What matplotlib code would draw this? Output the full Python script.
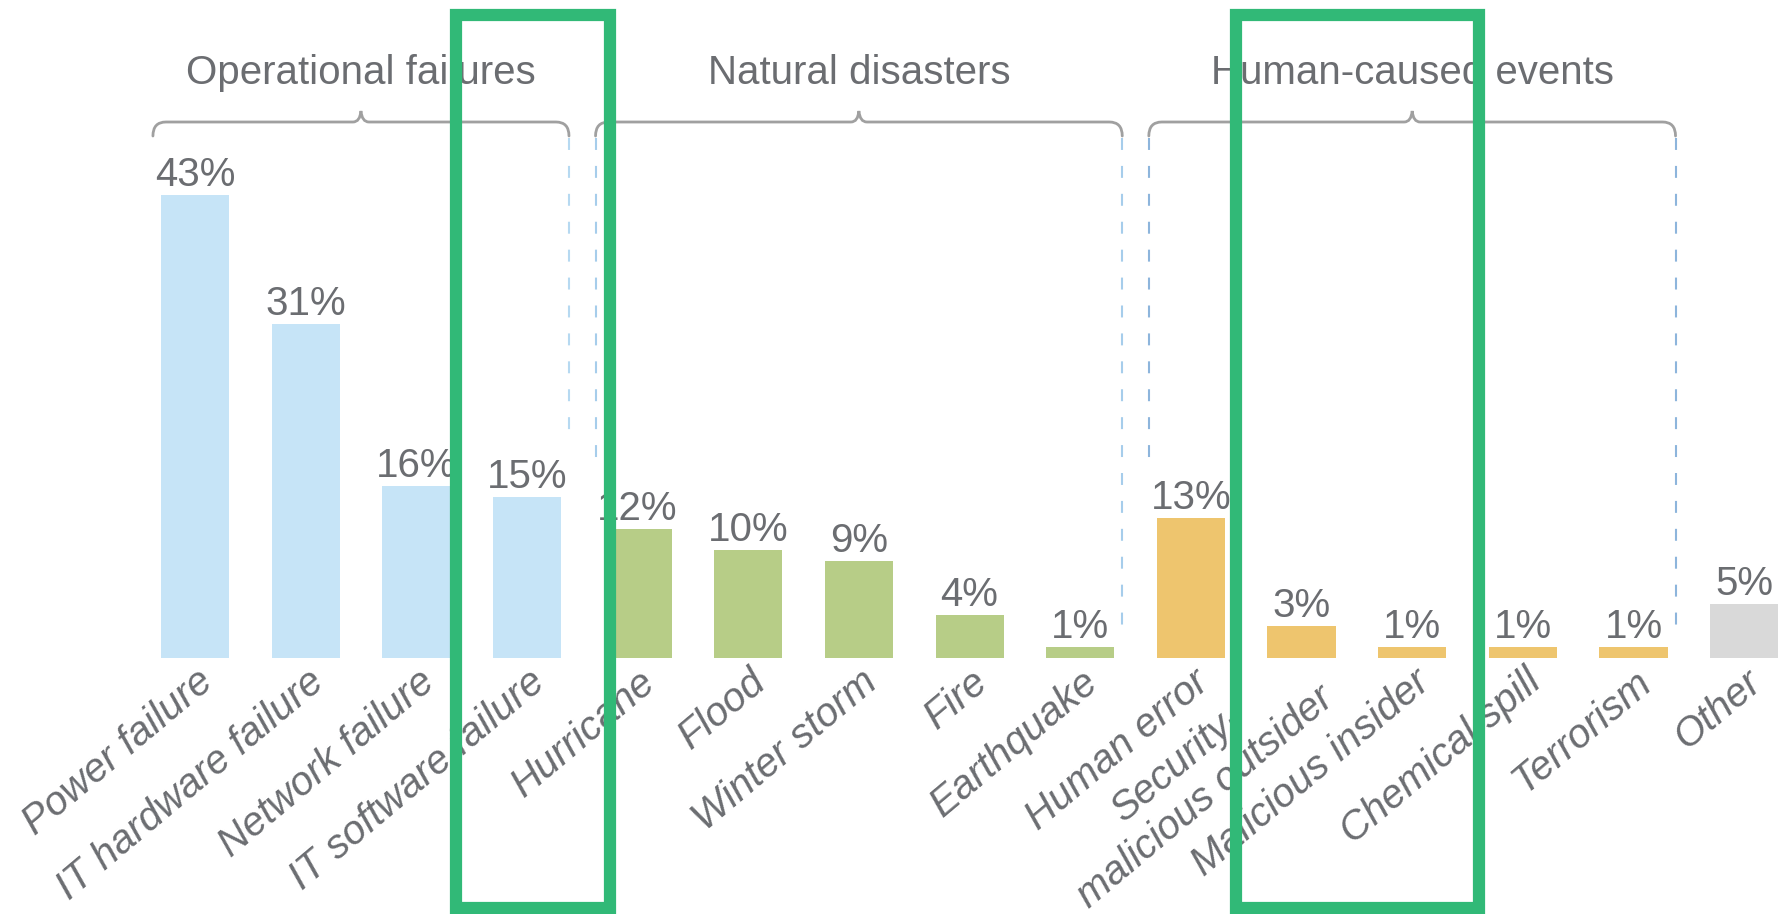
import matplotlib
matplotlib.use("Agg")
import matplotlib.pyplot as plt
from matplotlib.path import Path
from matplotlib.patches import PathPatch, Rectangle
from matplotlib.transforms import IdentityTransform
from matplotlib.lines import Line2D

# ---- data -------------------------------------------------------------
categories = [
    "Power failure", "IT hardware failure", "Network failure", "IT software failure",
    "Hurricane", "Flood", "Winter storm", "Fire", "Earthquake",
    "Human error", "Security-\nmalicious outsider", "Malicious insider",
    "Chemical spill", "Terrorism",
    "Other",
]
values = [43, 31, 16, 15, 12, 10, 9, 4, 1, 13, 3, 1, 1, 1, 5]

group_names = ["Operational failures", "Natural disasters", "Human-caused events", None]
group_sizes = [4, 5, 5, 1]
group_colors = ["#C6E4F7", "#B7CD87", "#EEC56E", "#D9D9D9"]
dash_colors = ["#B6D9F1", "#A6CDEB", "#8DB5DC"]

# ---- style ------------------------------------------------------------
W, H, DPI = 1778, 914, 100
TEXT = "#6B6D71"
BRACE = "#A0A0A0"
HIGHLIGHT = "#31B977"
plt.rcParams["font.family"] = ["Liberation Sans", "DejaVu Sans"]
plt.rcParams["lines.scale_dashes"] = False

fig = plt.figure(figsize=(W / DPI, H / DPI), dpi=DPI)
fig.patch.set_facecolor("white")
base_px = 658          # bar baseline, pixels from the top
ax = fig.add_axes([0, (H - base_px) / H, 1, 538 / H])
ax.set_xlim(-1.762, 14.306)
ax.set_ylim(0, 50)
ax.axis("off")

# colour per bar from its group
bar_colors = []
groups = []
start = 0
for name, size, col in zip(group_names, group_sizes, group_colors):
    bar_colors += [col] * size
    groups.append((name, start, start + size - 1))
    start += size

xs = list(range(len(values)))
ax.bar(xs, values, width=0.615, color=bar_colors, zorder=2)

for i, v in enumerate(values):
    ax.annotate(f"{v}%", (i, v), xytext=(0, 9), textcoords="offset pixels",
                ha="center", va="baseline", fontsize=29, color=TEXT)
    ax.annotate(categories[i], (i, 0), xytext=(13, -19), textcoords="offset pixels",
                ha="right", va="center", rotation=40, rotation_mode="anchor",
                multialignment="center", fontstyle="italic", fontsize=29,
                color=TEXT, annotation_clip=False)

# ---- group braces with dashed leaders ---------------------------------
ident = IdentityTransform()


def xpix(xd):
    return ax.transData.transform((xd, 0))[0]


def ypix(y_top):
    return H - y_top


def ypix_val(v):
    return ax.transData.transform((0, v))[1]


y_h, y_e, r = 122, 136, 13      # brace line, end tips, corner radius
cusp_w, cusp_h = 8, 11
pad = 0.38

for gi, (name, a, b) in enumerate(groups):
    if name is None:
        continue
    xl, xr = xpix(a - pad), xpix(b + pad)
    cx = (xl + xr) / 2
    Y = ypix
    verts = [
        (xl, Y(y_e)), (xl, Y(y_h)), (xl + r, Y(y_h)),
        (cx - cusp_w, Y(y_h)),
        (cx - 1, Y(y_h)), (cx, Y(y_h - cusp_h)),
        (cx + 1, Y(y_h)), (cx + cusp_w, Y(y_h)),
        (xr - r, Y(y_h)),
        (xr, Y(y_h)), (xr, Y(y_e)),
    ]
    codes = [Path.MOVETO, Path.CURVE3, Path.CURVE3,
             Path.LINETO,
             Path.CURVE3, Path.CURVE3,
             Path.CURVE3, Path.CURVE3,
             Path.LINETO,
             Path.CURVE3, Path.CURVE3]
    fig.add_artist(PathPatch(Path(verts, codes), transform=ident, fill=False,
                             edgecolor=BRACE, lw=2.0, capstyle="round"))
    fig.text(cx / W, 1 - 84 / H, name, ha="center", va="baseline",
             fontsize=29, color=TEXT)

    # dashed leaders down towards the neighbouring bars
    for xe, idx in ((xl, a), (xr, b)):
        v = values[idx]
        stop = ypix_val(v + (5.3 if v >= 10 else 2))
        top = ypix(y_e + 2)
        if stop < top:
            fig.add_artist(Line2D([xe, xe], [top, stop], transform=ident,
                                  color=dash_colors[gi], lw=1.5,
                                  linestyle=(0, (8.6, 11.5))))

# ---- highlight frames -------------------------------------------------
for left, right in ((456, 610), (1235.5, 1479)):
    top, bottom = 15, 908
    fig.add_artist(Rectangle((left, H - bottom), right - left, bottom - top,
                             transform=ident, fill=False, edgecolor=HIGHLIGHT,
                             lw=8.8, joinstyle="miter", zorder=20))

fig.savefig("out.png", dpi=DPI, facecolor="white")
